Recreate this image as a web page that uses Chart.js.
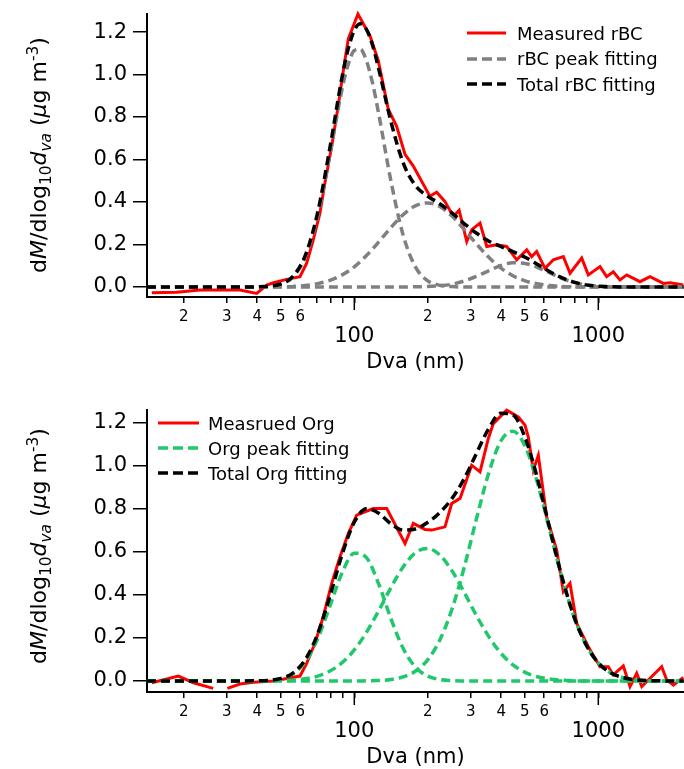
<!DOCTYPE html>
<html><head><meta charset="utf-8">
<script src="https://cdn.jsdelivr.net/npm/chart.js@4.4.0/dist/chart.umd.min.js"></script>
<style>
body{margin:0;background:#fff;}
#wrap{position:relative;width:684px;height:769px;overflow:hidden;font-family:'DejaVu Sans',sans-serif;color:#000;background:#fff}
canvas{position:absolute;left:0}
.ytitle{position:absolute;width:300px;height:30px;line-height:30px;text-align:center;font-size:22px;transform:rotate(-90deg);white-space:nowrap}
.ytitle sub,.ytitle sup{font-size:70%;line-height:0}
.leg{position:absolute;display:flex;align-items:center;font-size:18px;white-space:nowrap;height:25px}
.leg svg{flex:none}
</style></head>
<body><div id="wrap">
<canvas id="c1" width="684" height="384" style="top:0"></canvas>
<canvas id="c2" width="684" height="385" style="top:384px"></canvas>
<div class="ytitle" style="left:-111px;top:140px">d<i>M</i>/dlog<sub>10</sub><i>d</i><sub><i>va</i></sub> (<i>μ</i>g m<sup>-3</sup>)</div>
<div class="ytitle" style="left:-111px;top:531px">d<i>M</i>/dlog<sub>10</sub><i>d</i><sub><i>va</i></sub> (<i>μ</i>g m<sup>-3</sup>)</div>
</div>
<script>
// ---------- axis ticks ----------
const sizeTicks = [20,30,40,50,60,70,80,90,100,200,300,400,500,600,700,800,900,1000];
const sizeTickLabels = ['2','3','4','5','6','','','','','2','3','4','5','6','','','',''];
const decadeTicks = [100,1000];
const decadeLabels = ['100','1000'];
const massTicks = [0,0.2,0.4,0.6,0.8,1.0,1.2];
const xTitle = 'Dva (nm)';

// ---------- rBC (top) ----------
const rbcD = [14.8,18.7,23.3,34.0,39.8,43.8,46.6,52.9,59.9,63.8,67.9,72.3,75.8,80.8,85.9,90.8,94.5,103.5,115.9,125.4,137.8,149,161.4,174.5,204,217.6,235,254.5,269,289,303,327.5,349,383,421,463,509,533,559,605,654,719,766,855,910,1016,1082,1152,1227,1308,1482,1629,1847,1968,2231];
const rbcMeasured = [-0.027,-0.025,-0.014,-0.014,-0.030,0.009,0.020,0.036,0.049,0.112,0.222,0.348,0.490,0.663,0.852,1.042,1.168,1.285,1.183,1.065,0.837,0.758,0.624,0.569,0.427,0.446,0.403,0.332,0.361,0.214,0.270,0.301,0.191,0.199,0.191,0.128,0.175,0.143,0.167,0.088,0.128,0.143,0.065,0.136,0.057,0.096,0.049,0.072,0.033,0.057,0.025,0.049,0.017,0.020,0.009];
const rbcFitD = [14.13,15.85,17.78,19.95,22.39,25.12,28.18,31.62,35.48,39.81,44.67,50.12,56.23,63.10,70.79,79.43,89.13,94.41,100,105.9,112.2,118.9,125.9,141.3,158.5,177.8,199.5,223.9,251.2,281.8,316.2,354.8,398.1,446.7,501.2,562.3,631.0,707.9,794.3,891.3,1000,1122,1259,1413,1585,1778,1995,2239];
const rbcPeak1 = [0,0,0,0,0,0,0,0,0,0.0005,0.003,0.014,0.049,0.144,0.335,0.624,0.932,1.047,1.113,1.119,1.064,0.958,0.815,0.499,0.245,0.096,0.030,0.008,0.002,0,0,0,0,0,0,0,0,0,0,0,0,0,0,0,0,0,0,0];
const rbcPeak2 = [0,0,0,0,0,0,0,0,0,0.0002,0.0005,0.001,0.003,0.007,0.016,0.031,0.057,0.074,0.095,0.120,0.148,0.179,0.212,0.280,0.340,0.382,0.396,0.379,0.334,0.271,0.204,0.141,0.090,0.053,0.029,0.015,0.007,0.003,0.001,0,0,0,0,0,0,0,0,0];
const rbcPeak3 = [0,0,0,0,0,0,0,0,0,0,0,0,0,0,0,0,0,0,0,0,0,0,0,0,0,0.001,0.002,0.006,0.013,0.028,0.050,0.076,0.101,0.114,0.111,0.093,0.067,0.041,0.022,0.010,0.004,0.001,0,0,0,0,0,0];
const rbcTotal = [0,0,0,0,0,0,0,0,0,0.001,0.004,0.015,0.052,0.151,0.351,0.655,0.989,1.121,1.208,1.239,1.212,1.137,1.027,0.779,0.585,0.478,0.428,0.392,0.349,0.299,0.254,0.217,0.191,0.167,0.140,0.107,0.073,0.044,0.023,0.010,0.004,0.001,0,0,0,0,0,0];

// ---------- Org (bottom) ----------
const orgD = [14.8,19.0,21.9,26.4,28.0,30.2,34.0,38.6,46.6,52.9,59.9,63.8,69.0,74.6,80.8,87.4,94.5,102.3,119.6,135.8,161.4,174.5,194.9,207.6,235.3,250.7,271.2,302.8,327.5,354.2,371.3,421.3,470.0,500.8,516.6,541.6,567.8,614.4,675.3,718.9,765.6,815.6,910,1016,1099,1152,1266,1349,1437,1507,1680,1819,1907,2030,2231];
const orgMeasured = [-0.008,0.023,-0.008,-0.034,null,-0.034,-0.014,-0.006,0.0,0.012,0.023,0.082,0.175,0.298,0.453,0.576,0.684,0.769,0.800,0.800,0.638,0.731,0.703,0.700,0.715,0.823,0.847,1.001,0.970,1.125,1.194,1.256,1.225,1.186,1.132,0.978,1.047,0.761,0.607,0.414,0.453,0.267,0.159,0.066,0.066,0.028,0.070,-0.026,0.036,-0.026,0.028,0.066,0.005,-0.019,0.017];
const orgFitD = [14.13,15.85,17.78,19.95,22.39,25.12,28.18,31.62,35.48,39.81,44.67,50.12,56.23,63.10,70.79,79.43,89.13,100,112.2,125.9,141.3,158.5,177.8,199.5,223.9,251.2,281.8,316.2,354.8,398.1,446.7,501.2,562.3,631.0,707.9,794.3,891.3,1000,1122,1259,1413,1585,1778,1995,2239];
const orgPeak1 = [0,0,0,0,0,0,0,0,0,0.0005,0.003,0.011,0.034,0.091,0.196,0.347,0.502,0.593,0.572,0.450,0.289,0.152,0.065,0.023,0.007,0.002,0,0,0,0,0,0,0,0,0,0,0,0,0,0,0,0,0,0,0];
const orgPeak2 = [0,0,0,0,0,0,0,0,0,0.0002,0.001,0.002,0.004,0.010,0.023,0.046,0.085,0.144,0.226,0.326,0.433,0.529,0.595,0.615,0.585,0.512,0.412,0.305,0.208,0.130,0.075,0.040,0.020,0.009,0.004,0.001,0,0,0,0,0,0,0,0,0];
const orgPeak3 = [0,0,0,0,0,0,0,0,0.0,0,0,0,0,0,0,0,0,0,0.001,0.002,0.007,0.019,0.045,0.097,0.189,0.332,0.525,0.749,0.961,1.112,1.159,1.089,0.922,0.703,0.483,0.299,0.167,0.084,0.038,0.016,0.006,0.002,0.001,0,0];
const orgTotal = [0,0,0,0,0,0,0,0,0,0.001,0.003,0.012,0.038,0.101,0.219,0.393,0.587,0.737,0.799,0.778,0.729,0.700,0.705,0.735,0.781,0.846,0.937,1.054,1.169,1.242,1.234,1.129,0.942,0.712,0.487,0.300,0.168,0.084,0.038,0.016,0.006,0.002,0.001,0,0];

// ---------- legends ----------
const legendTop = [
  {text:'Measured rBC', color:'#ff0000', dash:null},
  {text:'rBC peak fitting', color:'#808080', dash:'10 5'},
  {text:'Total rBC fitting', color:'#000000', dash:'10 5'}
];
const legendBottom = [
  {text:'Measrued Org', color:'#ff0000', dash:null},
  {text:'Org peak fitting', color:'#1fc86b', dash:'10 5'},
  {text:'Total Org fitting', color:'#000000', dash:'10 5'}
];

const FONT = "'DejaVu Sans', sans-serif";
Chart.defaults.font.family = FONT;
Chart.defaults.color = '#000';

const pts = (xs, ys) => xs.map((x, i) => ({x: x, y: ys[i]}));

const majorTickPlugin = {
  id: 'majorTicks',
  afterDraw(chart) {
    const s = chart.scales.x, ctx = chart.ctx;
    ctx.save();
    ctx.strokeStyle = '#000';
    ctx.lineWidth = 1.5;
    decadeTicks.forEach(v => {
      const px = s.getPixelForValue(v);
      ctx.beginPath();
      ctx.moveTo(px, s.top);
      ctx.lineTo(px, s.top + 13);
      ctx.stroke();
    });
    ctx.restore();
  }
};

function lineDS(label, xs, ys, color, width, dash, order, smooth) {
  return {
    label: label, data: pts(xs, ys), borderColor: color, backgroundColor: color,
    borderWidth: width, borderDash: dash || [], pointRadius: 0, fill: false,
    order: order, spanGaps: false, clip: 6,
    cubicInterpolationMode: smooth ? 'monotone' : 'default', tension: 0
  };
}

function makeChart(id, datasets, yMin, yMax, padTop, padBottom) {
  const xMin = 14.14, xMax = 2245;
  return new Chart(document.getElementById(id), {
    type: 'line',
    data: {datasets: datasets},
    plugins: [majorTickPlugin],
    options: {
      responsive: false, animation: false, devicePixelRatio: 1,
      layout: {padding: {top: padTop, left: 0, right: 0, bottom: padBottom}},
      plugins: {legend: {display: false}, tooltip: {enabled: false}},
      scales: {
        x: {
          type: 'logarithmic', position: 'bottom', min: xMin, max: xMax,
          afterBuildTicks: s => { s.ticks = sizeTicks.map(v => ({value: v})); },
          afterFit: s => { s.height = 26; s.paddingLeft = 0; s.paddingRight = 0; },
          ticks: {autoSkip: false, maxRotation: 0, minRotation: 0, padding: 5,
            font: {size: 15}, color: '#000',
            callback: (v, i) => sizeTickLabels[i]},
          grid: {display: true, drawOnChartArea: false, drawTicks: true, tickLength: 6, color: '#000', lineWidth: 1.5},
          border: {display: true, color: '#000', width: 2}
        },
        x2: {
          type: 'logarithmic', position: 'bottom', min: xMin, max: xMax,
          afterBuildTicks: s => { s.ticks = decadeTicks.map(v => ({value: v})); },
          afterFit: s => { s.height = 51; s.paddingLeft = 0; s.paddingRight = 0; },
          ticks: {autoSkip: false, maxRotation: 0, minRotation: 0, padding: 1,
            font: {size: 21}, color: '#000',
            callback: (v, i) => decadeLabels[i]},
          grid: {display: false, drawTicks: false},
          border: {display: false},
          title: {display: true, text: xTitle, font: {size: 21}, color: '#000', padding: {top: 0, bottom: -1}}
        },
        y: {
          type: 'linear', position: 'left', min: yMin, max: yMax,
          afterBuildTicks: s => { s.ticks = massTicks.map(v => ({value: v})); },
          afterFit: s => { s.width = 147; s.paddingTop = 0; s.paddingBottom = 0; },
          ticks: {padding: 6, font: {size: 21}, color: '#000', callback: v => Number(v).toFixed(1)},
          grid: {display: true, drawOnChartArea: false, drawTicks: true, tickLength: 14, color: '#000', lineWidth: 1.5},
          border: {display: true, color: '#000', width: 2}
        }
      }
    }
  });
}

makeChart('c1', [
  lineDS('Total rBC fitting', rbcFitD, rbcTotal, '#000000', 3.5, [9, 5], 0, true),
  lineDS('rBC peak fitting', rbcFitD, rbcPeak1, '#808080', 3.5, [9, 5], 1, true),
  lineDS('rBC peak fitting', rbcFitD, rbcPeak2, '#808080', 3.5, [9, 5], 1, true),
  lineDS('rBC peak fitting', rbcFitD, rbcPeak3, '#808080', 3.5, [9, 5], 1, true),
  lineDS('Measured rBC', rbcD, rbcMeasured, '#ff0000', 3, null, 2, false)
], -0.047, 1.285, 14, 10);

makeChart('c2', [
  lineDS('Total Org fitting', orgFitD, orgTotal, '#000000', 3.5, [9, 5], 0, true),
  lineDS('Org peak fitting', orgFitD, orgPeak1, '#1fc86b', 3.5, [9, 5], 1, true),
  lineDS('Org peak fitting', orgFitD, orgPeak2, '#1fc86b', 3.5, [9, 5], 1, true),
  lineDS('Org peak fitting', orgFitD, orgPeak3, '#1fc86b', 3.5, [9, 5], 1, true),
  lineDS('Measrued Org', orgD, orgMeasured, '#ff0000', 3, null, 2, false)
], -0.051, 1.257, 26, 0);

function buildLegend(items, lineLeft, lineLen, gap, firstCenter, step) {
  const wrap = document.getElementById('wrap');
  items.forEach((it, i) => {
    const row = document.createElement('div');
    row.className = 'leg';
    row.style.left = lineLeft + 'px';
    row.style.top = (firstCenter + i * step - 12.5) + 'px';
    const sw = it.dash ? 3.5 : 3;
    row.innerHTML = '<svg width="' + lineLen + '" height="10"><line x1="0" y1="5" x2="' + lineLen + '" y2="5" stroke="' + it.color +
      '" stroke-width="' + sw + '"' + (it.dash ? ' stroke-dasharray="' + it.dash + '"' : '') + '/></svg>' +
      '<span style="margin-left:' + gap + 'px">' + it.text + '</span>';
    wrap.appendChild(row);
  });
}
buildLegend(legendTop, 467, 39, 11, 33, 25.5);
buildLegend(legendBottom, 158, 41, 9, 423, 25);
</script>
</body></html>
